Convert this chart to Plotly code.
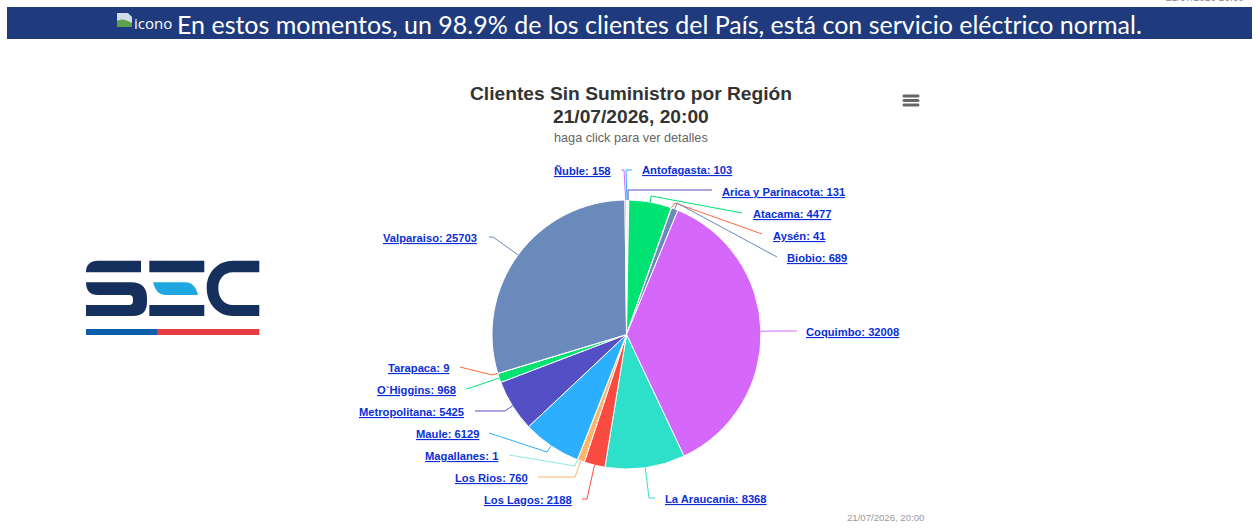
import math
import re
import plotly.graph_objects as go

regiones = ["Antofagasta", "Arica y Parinacota", "Atacama", "Aysén", "Biobio", "Coquimbo",
            "La Araucania", "Los Lagos", "Los Rios", "Magallanes", "Maule", "Metropolitana",
            "O`Higgins", "Tarapaca", "Valparaiso", "Ñuble"]
clientes = [103, 131, 4477, 41, 689, 32008, 8368, 2188, 760, 1, 6129, 5425, 968, 9, 25703, 158]
colores = ["#2caffe", "#544fc5", "#00e272", "#fe6a35", "#6b8abc", "#d568fb", "#2ee0ca", "#fa4b42",
           "#feb56a", "#91e8e1", "#2caffe", "#544fc5", "#00e272", "#fe6a35", "#6b8abc", "#d568fb"]

titulo_1 = "Clientes Sin Suministro por Región"
titulo_2 = "21/07/2026, 20:00"
subtitulo = "haga click para ver detalles"
banner = "En estos momentos, un 98.9% de los clientes del País, está con servicio eléctrico normal."

W, H = 1259, 531
CX, CY, R = 626.5, 334.5, 134.5

# label placement in page pixels: anchor, x, y, then connector start and elbow
etiquetas = {
    "Antofagasta": ("left", 641, 170, (632, 170), (626, 170)),
    "Arica y Parinacota": ("left", 721, 192, (712, 190), (628, 190)),
    "Atacama": ("left", 752, 214, (742, 213), (651, 196)),
    "Aysén": ("left", 772, 236, (762, 234), (675, 203)),
    "Biobio": ("left", 786, 258, (777, 257), (677, 203)),
    "Coquimbo": ("left", 805, 332, (797, 331), (777, 331)),
    "La Araucania": ("left", 664, 499, (655, 498), (649, 498)),
    "Los Lagos": ("right", 573, 500, (582, 499), (587, 499)),
    "Los Rios": ("right", 529, 478, (538, 477), (575, 477)),
    "Magallanes": ("right", 499, 456, (509, 455), (575, 466)),
    "Maule": ("right", 480, 434, (489, 433), (547, 452)),
    "Metropolitana": ("right", 465, 412, (475, 411), (505, 411)),
    "O`Higgins": ("right", 457, 390, (466, 389), (470, 388)),
    "Tarapaca": ("right", 449.5, 368, (460, 367), (492, 375)),
    "Valparaiso": ("right", 478, 238, (489, 237), (493, 237)),
    "Ñuble": ("right", 612, 171, (621, 170), (624, 170)),
}


def px(x):
    return x / W


def py(y):
    return 1 - y / H


# pixel path string -> paper path string (numbers alternate x, y)
def ruta(d):
    n = [0]
    def cambia(m):
        v = float(m.group())
        n[0] += 1
        return f"{px(v):.5f}" if n[0] % 2 else f"{py(v):.5f}"
    return re.sub(r"[\d.]+", cambia, d)


def forma(d, color):
    return dict(type="path", xref="paper", yref="paper", path=ruta(d),
                fillcolor=color, line=dict(width=0), layer="above")


def texto(t, x, y, size, color, anchor="center", family="Liberation Sans"):
    return dict(text=t, x=px(x), y=py(y), xref="paper", yref="paper", showarrow=False,
                xanchor=anchor, yanchor="middle", borderpad=0,
                font=dict(family=family, size=size, color=color))


fig = go.Figure()
fig.add_trace(go.Pie(labels=regiones, values=clientes, sort=False, direction="clockwise",
                     rotation=0, textinfo="none", showlegend=False,
                     marker=dict(colors=colores, line=dict(color="white", width=1)),
                     domain=dict(x=[px(CX - R), px(CX + R)], y=[py(CY + R), py(CY - R)])))

shapes = []
annotations = []

# banner
shapes.append(forma("M7 7 L1252 7 L1252 39 L7 39 Z", "#1f3b7d"))
annotations.append(texto(banner, 176, 24, 25, "white", "left", "Lato"))
annotations.append(texto("icono", 133, 23, 15, "white", "left", "Open Sans"))
annotations.append(texto("21/07/2026 20:00", 1245, -2, 10, "#888888", "right"))

# broken image icon
shapes.append(forma("M117 13 L128 13 L132 17 L132 27 L117 27 Z", "#cfdbe8"))
shapes.append(forma("M117 27 L117 21 Q122 17 132 23 L132 27 Z", "#5fa04e"))

# logo
oscuro = "#16305e"
shapes.append(forma("M86 272.3 Q86 260.7 98 260.7 L141 260.7 L141 272.3 Z", oscuro))
shapes.append(forma("M86 282.3 L131 282.3 Q147 282.3 147 298 L147 302 Q147 316 133 316 L86 316 L86 305 "
                    "L129 305 Q133 305 133 301 L133 299 Q133 295 129 295 L98 295 Q86 295 86 282.3 Z", oscuro))
shapes.append(forma("M149.3 260.7 L204.3 260.7 L204.3 272.3 L149.3 272.3 Z", oscuro))
shapes.append(forma("M149.3 305 L204.3 305 L204.3 316 L149.3 316 Z", oscuro))
shapes.append(forma("M153 282.3 L185 282.3 Q195 282.3 198 295 L165 295 Q156 295 153 282.3 Z", "#1ea7e1"))
shapes.append(forma("M259.3 260.7 L233 260.7 C218 260.7 206.7 272 206.7 288 C206.7 304 218 316 233 316 "
                    "L259.3 316 L259.3 305 L233 305 C224 305 218.3 298 218.3 288 C218.3 279 224 272.3 233 272.3 "
                    "L259.3 272.3 Z", oscuro))
shapes.append(forma("M86 329 L157 329 L157 335 L86 335 Z", "#0b5fa9"))
shapes.append(forma("M157 329 L259.3 329 L259.3 335 L157 335 Z", "#e63c42"))

# titles
annotations.append(texto(f"<b>{titulo_1}</b>", 631, 94, 19.2, "#333333"))
annotations.append(texto(f"<b>{titulo_2}</b>", 631, 116, 19.2, "#333333"))
annotations.append(texto(subtitulo, 631, 138, 12.7, "#666666"))
annotations.append(texto("21/07/2026, 20:00", 925, 517, 9.6, "#999999", "right"))

# menu button, rounded bars
for y in (96, 100.5, 105):
    shapes.append(forma(f"M904 {y - 1.5} L918 {y - 1.5} Q919.5 {y - 1.5} 919.5 {y} Q919.5 {y + 1.5} 918 {y + 1.5} "
                        f"L904 {y + 1.5} Q902.5 {y + 1.5} 902.5 {y} Q902.5 {y - 1.5} 904 {y - 1.5} Z", "#666666"))

# data labels and connectors, the slice end comes from the values
total = sum(clientes)
acumulado = 0
for region, valor, color in zip(regiones, clientes, colores):
    angulo = (acumulado + valor / 2) / total * 2 * math.pi
    acumulado += valor
    borde = (CX + R * math.sin(angulo), CY - R * math.cos(angulo))
    anchor, x, y, inicio, codo = etiquetas[region]
    annotations.append(texto(f"<b><u>{region}: {valor}</u></b>", x, y, 11.2, "#0b2fd6", anchor))
    shapes.append(dict(type="path", xref="paper", yref="paper", layer="above",
                       path=ruta(f"M{inicio[0]} {inicio[1]} L{codo[0]} {codo[1]} L{borde[0]:.1f} {borde[1]:.1f}"),
                       line=dict(color=color, width=1)))

fig.update_layout(width=W, height=H, margin=dict(l=0, r=0, t=0, b=0), paper_bgcolor="white",
                  shapes=shapes, annotations=annotations)

fig.write_html("out.html", config=dict(displayModeBar=False),
               post_script="document.body.style.margin='0';document.body.style.overflow='hidden';")
